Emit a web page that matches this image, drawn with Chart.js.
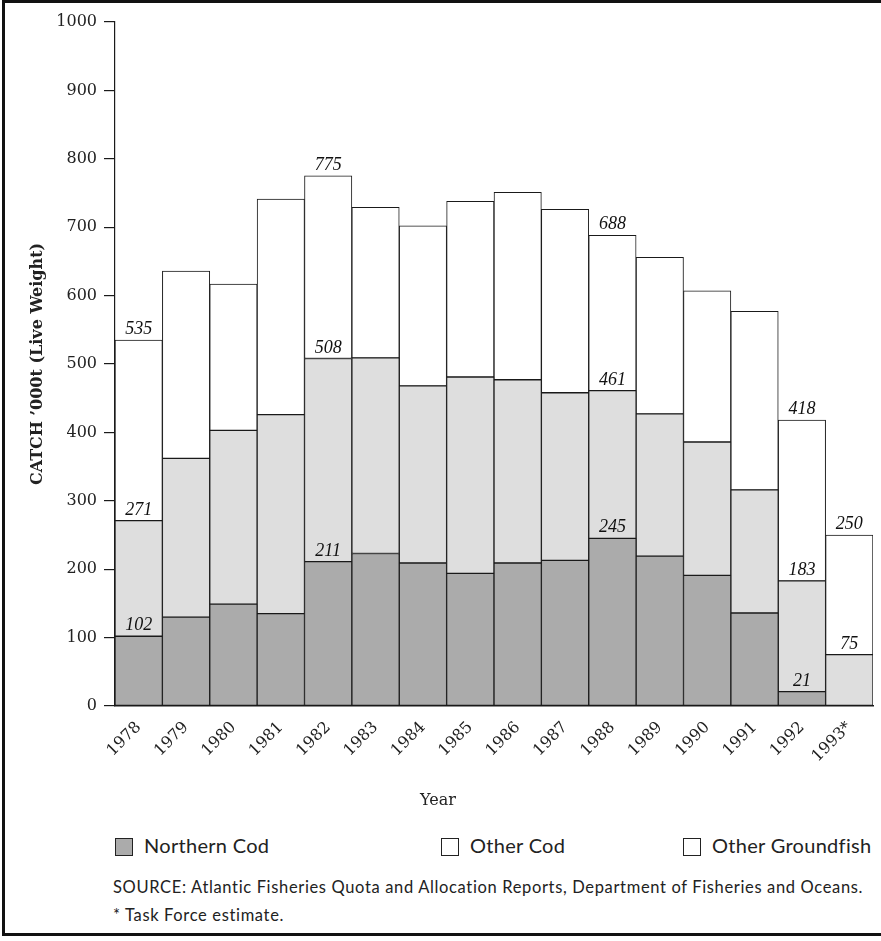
<!DOCTYPE html>
<html>
<head>
<meta charset="utf-8">
<script src="https://cdn.jsdelivr.net/npm/chart.js"></script>
<style>
  body { margin: 0; background: #fff; }
  #wrap { position: relative; width: 881px; height: 941px; overflow: hidden; }
  #frame { position: absolute; left: 2px; top: 0; width: 885px; height: 936px;
           border-top: 3px solid #111; border-left: 3px solid #111; border-bottom: 3px solid #111; box-sizing: border-box; }
  canvas { position: absolute; left: 0; top: 0; }
  .txt { position: absolute; color: #222; white-space: nowrap; }
  .serif { font-family: "DejaVu Serif", serif; font-size: 16px; }
  .sans { font-family: Lato, "Open Sans", sans-serif; }
  .box { display: inline-block; width: 16px; height: 16px; border: 1.5px solid #222; vertical-align: -3px; margin-right: 11px; }
</style>
</head>
<body>
<div id="wrap">
  <div id="frame"></div>
  <canvas id="catchChart" width="881" height="830"></canvas>
  <div class="txt serif" style="left:420px; top:790px;">Year</div>
  <div class="txt sans" style="left:115px; top:833px; font-size:20px; letter-spacing:0.3px;"><span class="box" style="background:#ababab"></span>Northern Cod</div>
  <div class="txt sans" style="left:441px; top:833px; font-size:20px; letter-spacing:0.3px;"><span class="box"></span>Other Cod</div>
  <div class="txt sans" style="left:683px; top:833px; font-size:20px; letter-spacing:0.3px;"><span class="box"></span>Other Groundfish</div>
  <div class="txt sans" style="left:113px; top:877px; font-size:16.5px; letter-spacing:0.65px;">SOURCE: Atlantic Fisheries Quota and Allocation Reports, Department of Fisheries and Oceans.</div>
  <div class="txt sans" style="left:113px; top:905px; font-size:16.5px; letter-spacing:0.65px;">* Task Force estimate.</div>
</div>
<script>
const years = ['1978', '1979', '1980', '1981', '1982', '1983', '1984', '1985',
               '1986', '1987', '1988', '1989', '1990', '1991', '1992', '1993*'];

// thousand tonnes, live weight (segment sizes)
const northernCod = [102, 130, 149, 135, 211, 223, 209, 194, 209, 213, 245, 219, 191, 136, 21, 0];
const otherCod = [169, 232, 254, 291, 297, 286, 259, 287, 268, 245, 216, 208, 195, 180, 162, 75];
const otherGroundfish = [264, 274, 214, 315, 267, 220, 234, 257, 274, 268, 227, 229, 221, 261, 235, 175];

// years whose cumulative totals are printed above the bars
const labelledYears = ['1978', '1982', '1988', '1992', '1993*'];

const yTicks = [0, 100, 200, 300, 400, 500, 600, 700, 800, 900, 1000];

const valueLabels = {
  id: 'valueLabels',
  afterDatasetsDraw(chart) {
    const ctx = chart.ctx;
    ctx.save();
    ctx.font = 'italic 18px "Liberation Serif", serif';
    ctx.fillStyle = '#111';
    ctx.textAlign = 'center';
    ctx.textBaseline = 'alphabetic';
    labelledYears.forEach(year => {
      const i = years.indexOf(year);
      let total = 0;
      chart.data.datasets.forEach((ds, d) => {
        const v = ds.data[i];
        total += v;
        if (!v) return;
        const bar = chart.getDatasetMeta(d).data[i];
        ctx.fillText(String(total), bar.x, bar.y - 6);
      });
    });
    ctx.restore();
  }
};

const ctx = document.getElementById('catchChart').getContext('2d');
new Chart(ctx, {
  type: 'bar',
  data: {
    labels: years,
    datasets: [
      { label: 'Northern Cod', data: northernCod, backgroundColor: '#ababab' },
      { label: 'Other Cod', data: otherCod, backgroundColor: '#dedede' },
      { label: 'Other Groundfish', data: otherGroundfish, backgroundColor: '#ffffff' }
    ].map(ds => ({
      ...ds,
      borderColor: '#1a1a1a',
      borderWidth: 1,
      borderSkipped: false,
      barPercentage: 1,
      categoryPercentage: 1
    }))
  },
  options: {
    responsive: false,
    animation: false,
    layout: { padding: { left: 0, right: 8, top: 22, bottom: 0 } },
    plugins: {
      legend: { display: false },
      tooltip: { enabled: false }
    },
    scales: {
      x: {
        stacked: true,
        grid: { display: false },
        border: { display: true, color: '#1a1a1a', width: 1.5 },
        ticks: {
          color: '#222',
          font: { family: '"DejaVu Serif", serif', size: 16 },
          minRotation: 45,
          maxRotation: 45,
          padding: 4
        },
        afterFit(scale) { scale.height = 124; }
      },
      y: {
        stacked: true,
        min: 0,
        max: 1000,
        afterBuildTicks(scale) { scale.ticks = yTicks.map(v => ({ value: v })); },
        grid: { drawOnChartArea: false, tickLength: 11, color: '#1a1a1a', lineWidth: 1.2 },
        border: { color: '#1a1a1a', width: 1.2 },
        ticks: {
          color: '#222',
          font: { family: '"DejaVu Serif", serif', size: 16 },
          padding: 7,
          callback: v => String(v)
        },
        title: {
          display: true,
          text: 'CATCH ’000t (Live Weight)',
          color: '#222',
          font: { family: '"DejaVu Serif", serif', size: 16, weight: 'bold' },
          padding: { top: 28, bottom: 4 }
        },
        afterFit(scale) { scale.width = 115; }
      }
    }
  },
  plugins: [valueLabels]
});
</script>
</body>
</html>
